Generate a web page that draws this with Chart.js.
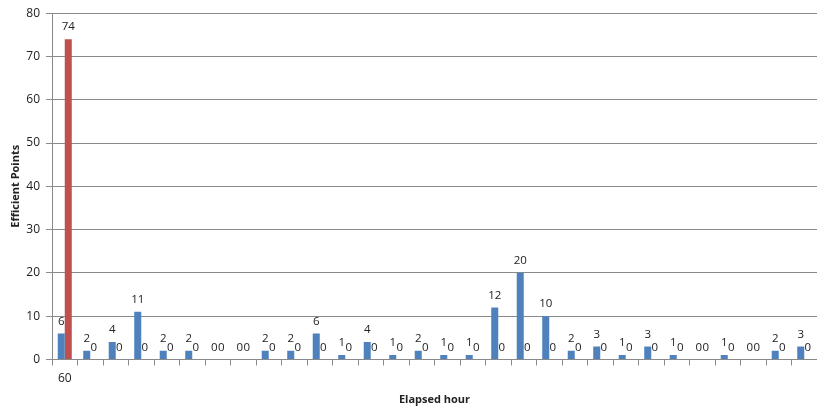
<!DOCTYPE html>
<html>
<head>
<meta charset="utf-8">
<script src="https://cdn.jsdelivr.net/npm/chart.js@4/dist/chart.umd.min.js"></script>
<style>
  html, body { margin: 0; padding: 0; background: #ffffff; }
  #wrap { width: 817px; height: 410px; }
</style>
</head>
<body>
<div id="wrap"><canvas id="chart" width="817" height="410"></canvas></div>
<script>
// Hour buckets (only the first one carries a visible label)
const categories = ['60', '', '', '', '', '', '', '', '', '', '', '', '', '', '', '', '', '', '', '', '', '', '', '', '', '', '', '', '', ''];

// Efficient points per elapsed hour
const blueValues = [6, 2, 4, 11, 2, 2, 0, 0, 2, 2, 6, 1, 4, 1, 2, 1, 1, 12, 20, 10, 2, 3, 1, 3, 1, 0, 1, 0, 2, 3];
const redValues  = [74, 0, 0, 0, 0, 0, 0, 0, 0, 0, 0, 0, 0, 0, 0, 0, 0, 0, 0, 0, 0, 0, 0, 0, 0, 0, 0, 0, 0, 0];

const yTicks = [0, 10, 20, 30, 40, 50, 60, 70, 80];

const FONT = "'Open Sans', 'DejaVu Sans', sans-serif";
const TEXT = '#222222';

// Writes each bar's value just above its top edge
const valueLabels = {
  id: 'valueLabels',
  afterDatasetsDraw(chart) {
    const ctx = chart.ctx;
    ctx.save();
    ctx.font = '11.5px ' + FONT;
    ctx.fillStyle = TEXT;
    ctx.textAlign = 'center';
    ctx.textBaseline = 'middle';
    chart.data.datasets.forEach((ds, i) => {
      const meta = chart.getDatasetMeta(i);
      meta.data.forEach((bar, j) => {
        ctx.fillText(String(ds.data[j]), bar.x, bar.y - 12);
      });
    });
    ctx.restore();
  }
};

new Chart(document.getElementById('chart'), {
  type: 'bar',
  data: {
    labels: categories,
    datasets: [
      { label: 'Series 1', data: blueValues, backgroundColor: '#4f81bd', categoryPercentage: 0.55, barPercentage: 1.0 },
      { label: 'Series 2', data: redValues, backgroundColor: '#c0504d', categoryPercentage: 0.55, barPercentage: 1.0 }
    ]
  },
  options: {
    responsive: false,
    animation: false,
    layout: { padding: { left: 6, right: 0, top: 2, bottom: 0 } },
    plugins: {
      legend: { display: false },
      tooltip: { enabled: false }
    },
    scales: {
      x: {
        offset: true,
        grid: {
          offset: true,
          drawOnChartArea: false,
          drawTicks: true,
          tickLength: 6,
          color: '#8a8a8a'
        },
        border: { color: '#8a8a8a' },
        ticks: {
          autoSkip: false,
          maxRotation: 0,
          padding: 6,
          color: TEXT,
          font: { family: FONT, size: 12 }
        },
        title: {
          display: true,
          text: 'Elapsed hour',
          color: TEXT,
          font: { family: FONT, size: 11, weight: 'bold' },
          padding: { top: 1, bottom: 4 }
        }
      },
      y: {
        min: 0,
        max: 80,
        afterBuildTicks(axis) { axis.ticks = yTicks.map(v => ({ value: v })); },
        afterFit(axis) { axis.width = 46; },
        grid: {
          color: '#8a8a8a',
          tickLength: 6,
          drawTicks: true
        },
        border: { color: '#8a8a8a' },
        ticks: {
          padding: 6,
          color: TEXT,
          font: { family: FONT, size: 12 }
        },
        title: {
          display: true,
          text: 'Efficient Points',
          color: TEXT,
          font: { family: FONT, size: 11, weight: 'bold' },
          padding: { top: 3, bottom: 0 }
        }
      }
    }
  },
  plugins: [valueLabels]
});
</script>
</body>
</html>
